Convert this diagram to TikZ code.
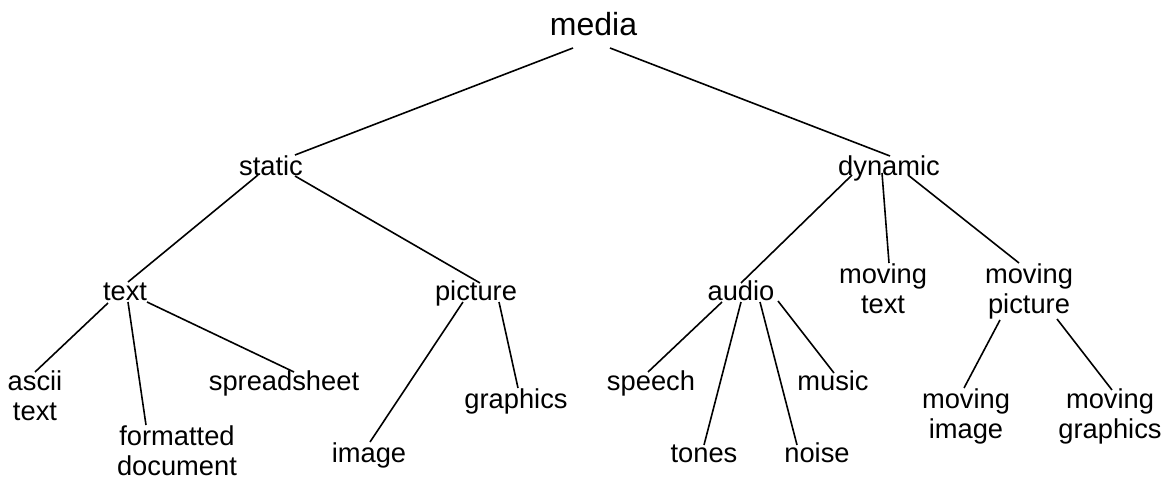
\documentclass[tikz,border=0pt]{standalone}
\usepackage{fontspec}
\setmainfont{Liberation Sans}
\usetikzlibrary{calc}
\newcommand{\twoline}[2]{\begin{tabular}[t]{@{}c@{}}#1\\#2\end{tabular}}
\tikzset{
  lbl/.style={anchor=base, inner sep=0pt, outer sep=0pt, font=\fontsize{27.3}{30}\selectfont},
  toplbl/.style={anchor=base, inner sep=0pt, outer sep=0pt, font=\fontsize{32}{36}\selectfont},
  edge/.style={draw=black, line width=1.6pt}
}
\begin{document}
\begin{tikzpicture}[x=1pt,y=-1pt]
\useasboundingbox (0,0) rectangle (1166,482);
% nodes
\node[toplbl] (media) at (593.5,35) {media};
\node[lbl] (static) at (271,175) {static};
\node[lbl] (dynamic) at (889,175) {dynamic};
\node[lbl] (text) at (125,300) {text};
\node[lbl] (picture) at (476,300) {picture};
\node[lbl] (audio) at (741,300) {audio};
\node[lbl] (mtext) at (883,283) {\twoline{moving}{text}};
\node[lbl] (mpicture) at (1029,283) {\twoline{moving}{picture}};
\node[lbl] (ascii) at (35,390) {\twoline{ascii}{text}};
\node[lbl] (formatted) at (177,445) {\twoline{formatted}{document}};
\node[lbl] (spreadsheet) at (284,390) {spreadsheet};
\node[lbl] (image) at (369,462) {image};
\node[lbl] (graphics) at (516,408) {graphics};
\node[lbl] (speech) at (651,390) {speech};
\node[lbl] (tones) at (704,462) {tones};
\node[lbl] (noise) at (817,462) {noise};
\node[lbl] (music) at (833,390) {music};
\node[lbl] (mimage) at (966,408) {\twoline{moving}{image}};
\node[lbl] (mgraphics) at (1110,408) {\twoline{moving}{graphics}};
% connectors
\draw[edge] ($(media.base)+(-20.5,13)$) -- ($(static.base)+(24,-20)$);
\draw[edge] ($(media.base)+(16.5,13)$) -- ($(dynamic.base)+(1,-19)$);
\draw[edge] ($(static.base)+(-13,0)$) -- ($(text.base)+(3,-18)$);
\draw[edge] ($(static.base)+(24,1)$) -- ($(picture.base)+(4,-17)$);
\draw[edge] ($(text.base)+(-17,3)$) -- ($(ascii.base)+(0,-18)$);
\draw[edge] ($(text.base)+(3,2)$) -- ($(formatted.base)+(-31,-20)$);
\draw[edge] ($(text.base)+(22,2)$) -- ($(spreadsheet.base)+(10,-18)$);
\draw[edge] ($(picture.base)+(-13,2)$) -- ($(image.base)+(1,-20)$);
\draw[edge] ($(picture.base)+(23,2)$) -- ($(graphics.base)+(2,-20)$);
\draw[edge] ($(dynamic.base)+(-37,0)$) -- ($(audio.base)+(0,-17)$);
\draw[edge] ($(dynamic.base)+(-7,-2)$) -- ($(mtext.base)+(6,-20)$);
\draw[edge] ($(dynamic.base)+(19,0)$) -- ($(mpicture.base)+(-10,-20)$);
\draw[edge] ($(audio.base)+(-19,2)$) -- ($(speech.base)+(-3,-18)$);
\draw[edge] ($(audio.base)+(0,2)$) -- ($(tones.base)+(0,-17)$);
\draw[edge] ($(audio.base)+(19,2)$) -- ($(noise.base)+(-20,-17)$);
\draw[edge] ($(audio.base)+(37,1)$) -- ($(music.base)+(1,-17)$);
\draw[edge] ($(mpicture.base)+(-29,37)$) -- ($(mimage.base)+(-2,-20)$);
\draw[edge] ($(mpicture.base)+(28,36)$) -- ($(mgraphics.base)+(2,-18)$);
\end{tikzpicture}
\end{document}
